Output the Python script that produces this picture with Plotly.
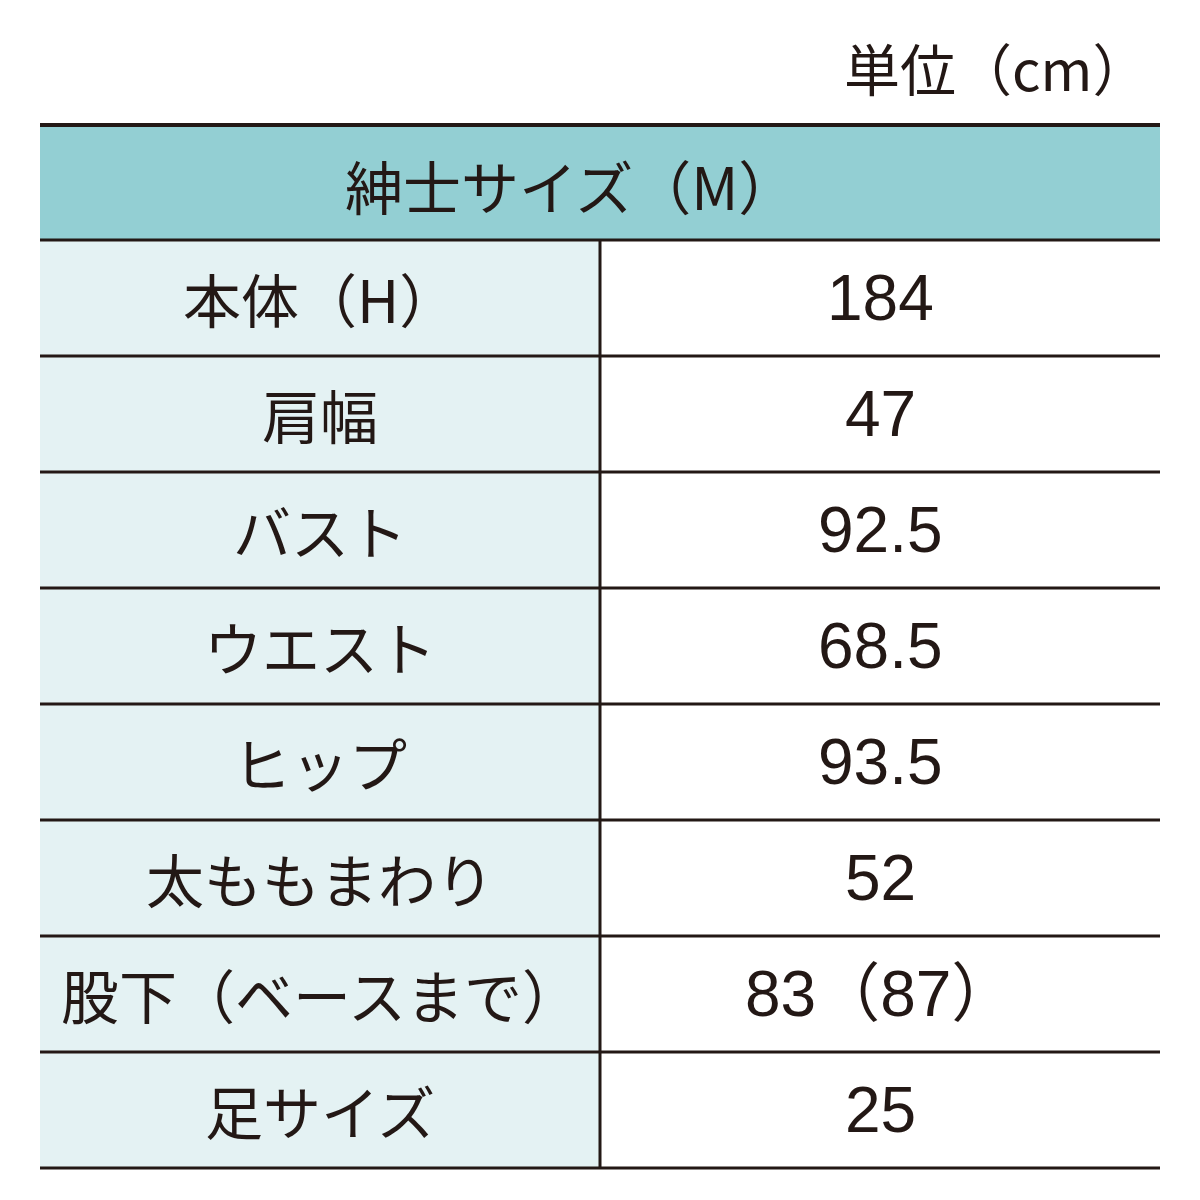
import plotly.graph_objects as go

unit_label = "単位（cm）"
title = "紳士サイズ（M）"
labels = ["本体（H）", "肩幅", "バスト", "ウエスト", "ヒップ", "太ももまわり", "股下（ベースまで）", "足サイズ"]
values = ["184", "47", "92.5", "68.5", "93.5", "52", "83（87）", "25"]

LINE = "#231815"
FONT = "Noto Sans CJK JP"
NUMFONT = "Liberation Sans, Noto Sans CJK JP"
x0, xm, x1 = 40, 600, 1160
top, head_h, row_h = 125, 115, 116
OFF = 8  # page body margin

fig = go.Figure()
shapes = []
ann = []

shapes.append(dict(type="rect", x0=x0, x1=x1, y0=top, y1=top + head_h,
                   fillcolor="#93CFD3", line_width=0, layer="below"))
ann.append(dict(x=(x0 + x1) / 2 - 30, y=top + head_h / 2 + 2, text=title, showarrow=False,
                font=dict(size=58, color=LINE, family=FONT)))
ann.append(dict(x=1150, y=66, text=unit_label, showarrow=False, xanchor="right",
                font=dict(size=56, color=LINE, family=FONT)))

y = top + head_h
for lab, val in zip(labels, values):
    shapes.append(dict(type="rect", x0=x0, x1=xm, y0=y, y1=y + row_h,
                       fillcolor="#E4F2F3", line_width=0, layer="below"))
    ann.append(dict(x=(x0 + xm) / 2, y=y + row_h / 2, text=lab, showarrow=False,
                    font=dict(size=58, color=LINE, family=FONT)))
    ann.append(dict(x=(xm + x1) / 2, y=y + row_h / 2, text=val, showarrow=False,
                    font=dict(size=64, color=LINE, family=NUMFONT)))
    y += row_h

bottom = y
for i in range(len(labels) + 2):
    yy = top if i == 0 else top + head_h + (i - 1) * row_h
    shapes.append(dict(type="line", x0=x0, x1=x1, y0=yy, y1=yy,
                       line=dict(color=LINE, width=4 if i == 0 else 3)))
shapes.append(dict(type="line", x0=xm, x1=xm, y0=top + head_h, y1=bottom,
                   line=dict(color=LINE, width=3)))

fig.update_layout(
    width=1200, height=1200, margin=dict(l=0, r=0, t=0, b=0),
    paper_bgcolor="white", plot_bgcolor="white",
    xaxis=dict(range=[OFF, 1200 + OFF], visible=False, fixedrange=True),
    yaxis=dict(range=[1200 + OFF, OFF], visible=False, fixedrange=True),
    shapes=shapes, annotations=ann, showlegend=False,
)
fig.write_html("out.html")
